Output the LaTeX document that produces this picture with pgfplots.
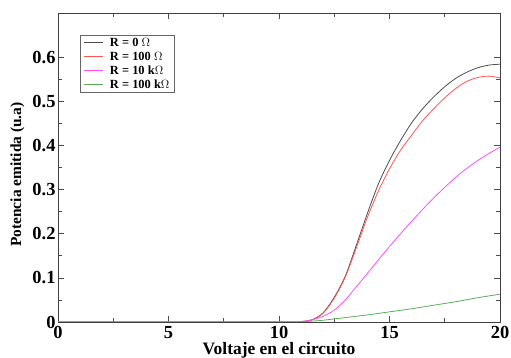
\documentclass[border=0pt]{standalone}
\usepackage{fontspec}
\setmainfont{Liberation Serif}
\usepackage{pgfplots}
\pgfplotsset{compat=1.18}
\definecolor{cblack}{rgb}{0.3,0.3,0.3}
\definecolor{cred}{rgb}{1,0.33,0.33}
\definecolor{cmag}{rgb}{1,0.3,1}
\definecolor{cgreen}{rgb}{0.35,0.68,0.35}
\begin{document}
\begin{tikzpicture}
\begin{axis}[
  scale only axis,
  width=442bp, height=309bp,
  xmin=0, xmax=20, ymin=0, ymax=0.7,
  xtick={0,5,10,15,20},
  ytick={0,0.1,0.2,0.3,0.4,0.5,0.6},
  minor x tick num=1,
  minor y tick num=1,
  tick align=inside,
  major tick length=6bp,
  minor tick length=4bp,
  every tick/.style={black!70, line width=0.6pt},
  axis line style={black!75, line width=0.9pt},
  /pgf/number format/assume math mode=true,
  yticklabel style={/pgf/number format/fixed, /pgf/number format/precision=1},
  tick label style={font=\fontsize{18.5}{18.5}\selectfont\bfseries},
  xticklabel style={yshift=-1bp},
  yticklabel style={xshift=1bp},
  xlabel={Voltaje en el circuito},
  ylabel={Potencia emitida (u.a)},
  xlabel style={font=\fontsize{17.5}{17.5}\selectfont\bfseries, at={(axis description cs:0.5,-0.093)}, anchor=center},
  ylabel style={font=\fontsize{15.5}{15.5}\selectfont\bfseries, at={(axis description cs:-0.0916,0.477)}, anchor=center},
  legend style={at={(axis description cs:0.05,0.93)}, anchor=north west,
    draw=black!60, line width=0.7pt, font=\fontsize{12.5}{12.5}\selectfont\bfseries,
    inner xsep=3bp, inner ysep=1bp,
    /tikz/every odd column/.append style={column sep=5bp}},
  legend cell align=left,
  legend image code/.code={\draw[#1] (0cm,0cm) -- (0.66cm,0cm);},
  clip=true,
]
\addplot[cblack, line width=0.8pt, smooth] coordinates {
(0,0) (10,0) (11,0.001) (11.5,0.005) (12,0.021) (12.5,0.056) (13,0.104) (13.5,0.174) (14,0.246) (14.5,0.313) (15,0.366) (15.5,0.411) (16,0.451) (16.5,0.483) (17,0.510) (17.5,0.533) (18,0.552) (18.5,0.566) (19,0.576) (19.5,0.582) (20,0.584)
};
\addlegendentry{R = 0 $\Omega$}
\addplot[cred, line width=0.8pt, smooth] coordinates {
(0,0) (10,0) (11,0.001) (11.5,0.005) (12,0.020) (12.5,0.054) (13,0.102) (13.5,0.168) (14,0.237) (14.5,0.297) (15,0.347) (15.5,0.389) (16,0.423) (16.5,0.456) (17,0.483) (17.5,0.508) (18,0.529) (18.5,0.545) (19,0.554) (19.5,0.557) (20,0.553)
};
\addlegendentry{R = 100 $\Omega$}
\addplot[cmag, line width=0.8pt, smooth] coordinates {
(0,0) (10,0) (11,0.001) (11.5,0.005) (12,0.013) (12.5,0.027) (13,0.050) (13.5,0.080) (14,0.110) (14.5,0.141) (15,0.171) (15.5,0.200) (16,0.228) (16.5,0.255) (17,0.281) (17.5,0.305) (18,0.328) (18.5,0.348) (19,0.366) (19.5,0.382) (20,0.396)
};
\addlegendentry{R = 10 k$\Omega$}
\addplot[cgreen, line width=0.8pt, smooth] coordinates {
(0,0) (10,0) (11,0.0005) (11.5,0.002) (12,0.004) (13,0.010) (14,0.016) (15,0.023) (16,0.030) (17,0.038) (18,0.046) (19,0.055) (20,0.063)
};
\addlegendentry{R = 100 k$\Omega$}
\end{axis}
\pgfresetboundingbox
\path ([shift={(-58bp,-36bp)}]current axis.south west) rectangle ([shift={(11bp,13bp)}]current axis.north east);
\end{tikzpicture}
\end{document}
